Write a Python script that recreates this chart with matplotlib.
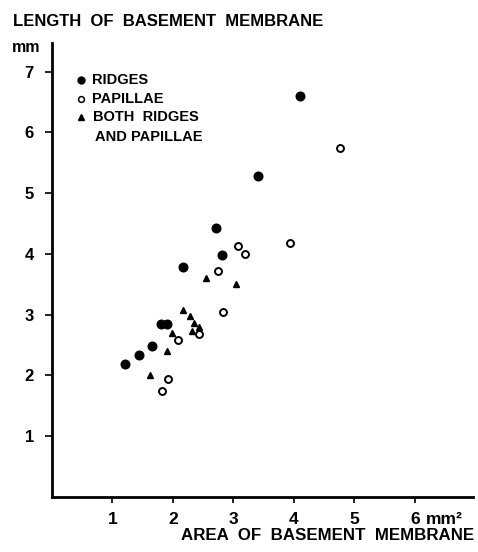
import matplotlib
matplotlib.use("Agg")
import matplotlib.pyplot as plt

plt.rcParams['font.family'] = ['Liberation Sans', 'DejaVu Sans']
plt.rcParams['font.weight'] = 'bold'

# Data (area mm^2, length mm)
ridges_x = [1.21, 1.44, 1.66, 1.80, 1.90, 2.17, 2.71, 2.81, 3.41, 4.10]
ridges_y = [2.19, 2.34, 2.49, 2.84, 2.84, 3.78, 4.42, 3.99, 5.28, 6.60]

papillae_x = [1.82, 1.92, 2.09, 2.43, 2.74, 2.82, 3.07, 3.19, 3.93, 4.76]
papillae_y = [1.75, 1.94, 2.59, 2.68, 3.72, 3.04, 4.13, 4.00, 4.18, 5.74]

both_x = [1.62, 1.90, 1.99, 2.17, 2.28, 2.31, 2.35, 2.43, 2.55, 3.04]
both_y = [2.00, 2.41, 2.70, 3.08, 2.98, 2.73, 2.86, 2.79, 3.61, 3.50]

x_ticks = [1, 2, 3, 4, 5, 6]
y_ticks = [1, 2, 3, 4, 5, 6, 7]
legend_labels = ["RIDGES", "PAPILLAE", "BOTH  RIDGES", "AND PAPILLAE"]

fig = plt.figure(figsize=(4.78, 5.52), dpi=100)
ax = fig.add_axes([52/478, 55/552, 421/478, 454/552])
ax.set_xlim(0, 6.96)
ax.set_ylim(0, 7.47)

ax.plot(ridges_x, ridges_y, 'o', color='black', markersize=6.2, linestyle='none')
ax.plot(papillae_x, papillae_y, 'o', markerfacecolor='white', markeredgecolor='black',
        markeredgewidth=1.4, markersize=5, linestyle='none')
ax.plot(both_x, both_y, '^', color='black', markersize=5, linestyle='none')

for s in ['top', 'right']:
    ax.spines[s].set_visible(False)
for s in ['left', 'bottom']:
    ax.spines[s].set_linewidth(2)

ax.set_xticks(x_ticks)
ax.set_xticklabels([str(v) for v in x_ticks], fontsize=12.5, fontweight='bold')
ax.set_yticks(y_ticks)
ax.set_yticklabels([str(v) for v in y_ticks], fontsize=12, fontweight='bold')
ax.tick_params(axis='x', direction='out', length=4, width=1.2, pad=7)
ax.tick_params(axis='y', direction='out', length=5, width=1.2, pad=8)

# legend (manual)
lx_m, lx_t = 81, 92
rows = [80, 99, 117, 137]
ax.plot([lx_m/478], [1-rows[0]/552], 'o', color='black', markersize=5, transform=fig.transFigure, clip_on=False)
ax.plot([lx_m/478], [1-rows[1]/552], 'o', markerfacecolor='white', markeredgecolor='black',
        markeredgewidth=1.1, markersize=4.2, transform=fig.transFigure, clip_on=False)
ax.plot([lx_m/478], [1-rows[2]/552], '^', color='black', markersize=4.2, transform=fig.transFigure, clip_on=False)
fig.text(lx_t/478, 1-rows[0]/552, legend_labels[0], fontsize=10.5, fontweight='bold', va='center', ha='left')
fig.text(lx_t/478, 1-rows[1]/552, legend_labels[1], fontsize=10.5, fontweight='bold', va='center', ha='left')
fig.text((lx_t+1)/478, 1-rows[2]/552, legend_labels[2], fontsize=10.5, fontweight='bold', va='center', ha='left')
fig.text((lx_t+3)/478, 1-rows[3]/552, legend_labels[3], fontsize=10.5, fontweight='bold', va='center', ha='left')

fig.text(13/478, 1-21/552, "LENGTH  OF  BASEMENT  MEMBRANE", fontsize=12, fontweight='bold', va='center', ha='left')
fig.text(12/478, 1-48/552, "mm", fontsize=11.5, fontweight='bold', va='center', ha='left')
fig.text(474/478, 1-535/552, "AREA  OF  BASEMENT  MEMBRANE", fontsize=12.2, fontweight='bold', va='center', ha='right')
fig.text(426/478, 1-519/552, "mm\u00b2", fontsize=12.5, fontweight='bold', va='center', ha='left')

fig.savefig("out.png", dpi=100)
